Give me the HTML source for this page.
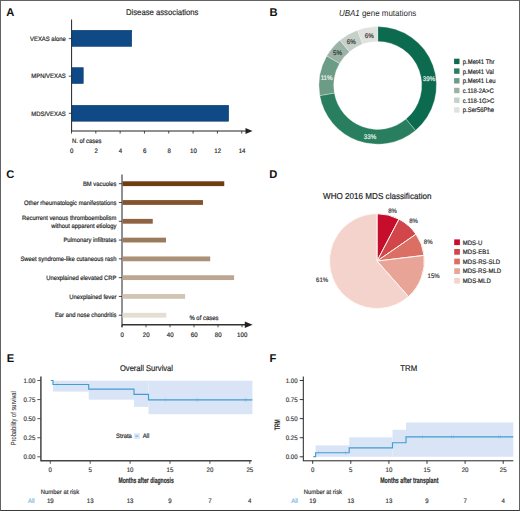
<!DOCTYPE html>
<html><head><meta charset="utf-8"><style>
html,body{margin:0;padding:0;background:#fff;}
#fig{position:relative;width:518px;height:509px;border:1px solid #626262;border-bottom-color:#3a3a3a;overflow:hidden;background:#fff;}
svg{position:absolute;left:-1px;top:-1px;}
text{font-family:"Liberation Sans",sans-serif;text-rendering:geometricPrecision;}
</style></head><body><div id="fig">
<svg width="520" height="511" viewBox="0 0 520 511" font-family="Liberation Sans">
<text x="6.3" y="15.8" font-size="11.2" text-anchor="start" fill="#111" font-weight="bold">A</text>
<text x="269.4" y="15.9" font-size="11.2" text-anchor="start" fill="#111" font-weight="bold">B</text>
<text x="6.3" y="177.6" font-size="11.2" text-anchor="start" fill="#111" font-weight="bold">C</text>
<text x="269.2" y="177.6" font-size="11.2" text-anchor="start" fill="#111" font-weight="bold">D</text>
<text x="6.8" y="361.6" font-size="11.2" text-anchor="start" fill="#111" font-weight="bold">E</text>
<text x="269.6" y="361.8" font-size="11.2" text-anchor="start" fill="#111" font-weight="bold">F</text>
<text x="162.2" y="15.3" font-size="8.3" text-anchor="middle" fill="#2a2a2a" stroke="#2a2a2a" stroke-width="0.18" textLength="72.5" lengthAdjust="spacingAndGlyphs" >Disease associations</text>
<line x1="71.6" y1="19.5" x2="71.6" y2="131" stroke="#222" stroke-width="1"/>
<line x1="71.6" y1="131" x2="250" y2="131" stroke="#222" stroke-width="1"/>
<path d="M245.5,128 L252.5,131 L245.5,134 Z" fill="#222"/>
<rect x="71.9" y="30.3" width="59.8" height="16.0" fill="#0f4986" stroke="#0b3c70" stroke-width="0.6"/>
<line x1="68.8" y1="38.6" x2="71.6" y2="38.6" stroke="#222" stroke-width="0.8"/>
<text x="65.8" y="40.86" font-size="6.37" text-anchor="end" fill="#222" stroke="#222" stroke-width="0.18" textLength="35.75" lengthAdjust="spacingAndGlyphs" >VEXAS alone</text>
<rect x="71.9" y="67.7" width="11.320000000000004" height="15.799999999999992" fill="#0f4986" stroke="#0b3c70" stroke-width="0.6"/>
<line x1="68.8" y1="76.2" x2="71.6" y2="76.2" stroke="#222" stroke-width="0.8"/>
<text x="65.8" y="78.46" font-size="6.37" text-anchor="end" fill="#222" stroke="#222" stroke-width="0.18" textLength="34.43" lengthAdjust="spacingAndGlyphs" >MPN/VEXAS</text>
<rect x="71.9" y="105.3" width="156.76" height="15.9" fill="#0f4986" stroke="#0b3c70" stroke-width="0.6"/>
<line x1="68.8" y1="113.3" x2="71.6" y2="113.3" stroke="#222" stroke-width="0.8"/>
<text x="65.8" y="115.56" font-size="6.37" text-anchor="end" fill="#222" stroke="#222" stroke-width="0.18" textLength="34.43" lengthAdjust="spacingAndGlyphs" >MDS/VEXAS</text>
<line x1="71.5" y1="131" x2="71.5" y2="133.6" stroke="#222" stroke-width="0.8"/>
<text x="71.8" y="152.77" font-size="6.59" text-anchor="middle" fill="#222" stroke="#222" stroke-width="0.18" textLength="3.39" lengthAdjust="spacingAndGlyphs" >0</text>
<line x1="95.82" y1="131" x2="95.82" y2="133.6" stroke="#222" stroke-width="0.8"/>
<text x="96.11999999999999" y="152.77" font-size="6.59" text-anchor="middle" fill="#222" stroke="#222" stroke-width="0.18" textLength="3.39" lengthAdjust="spacingAndGlyphs" >2</text>
<line x1="120.14" y1="131" x2="120.14" y2="133.6" stroke="#222" stroke-width="0.8"/>
<text x="120.44" y="152.77" font-size="6.59" text-anchor="middle" fill="#222" stroke="#222" stroke-width="0.18" textLength="3.39" lengthAdjust="spacingAndGlyphs" >4</text>
<line x1="144.46" y1="131" x2="144.46" y2="133.6" stroke="#222" stroke-width="0.8"/>
<text x="144.76000000000002" y="152.77" font-size="6.59" text-anchor="middle" fill="#222" stroke="#222" stroke-width="0.18" textLength="3.39" lengthAdjust="spacingAndGlyphs" >6</text>
<line x1="168.78" y1="131" x2="168.78" y2="133.6" stroke="#222" stroke-width="0.8"/>
<text x="169.08" y="152.77" font-size="6.59" text-anchor="middle" fill="#222" stroke="#222" stroke-width="0.18" textLength="3.39" lengthAdjust="spacingAndGlyphs" >8</text>
<line x1="193.1" y1="131" x2="193.1" y2="133.6" stroke="#222" stroke-width="0.8"/>
<text x="193.4" y="152.77" font-size="6.59" text-anchor="middle" fill="#222" stroke="#222" stroke-width="0.18" textLength="6.79" lengthAdjust="spacingAndGlyphs" >10</text>
<line x1="217.42000000000002" y1="131" x2="217.42000000000002" y2="133.6" stroke="#222" stroke-width="0.8"/>
<text x="217.72000000000003" y="152.77" font-size="6.59" text-anchor="middle" fill="#222" stroke="#222" stroke-width="0.18" textLength="6.79" lengthAdjust="spacingAndGlyphs" >12</text>
<line x1="241.74" y1="131" x2="241.74" y2="133.6" stroke="#222" stroke-width="0.8"/>
<text x="242.04000000000002" y="152.77" font-size="6.59" text-anchor="middle" fill="#222" stroke="#222" stroke-width="0.18" textLength="6.79" lengthAdjust="spacingAndGlyphs" >14</text>
<text x="71.9" y="143.16" font-size="6.37" text-anchor="start" fill="#222" stroke="#222" stroke-width="0.18" textLength="29.51" lengthAdjust="spacingAndGlyphs" >N. of cases</text>
<text x="377.6" y="15.9" font-size="8.6" text-anchor="middle" fill="#2a2a2a" textLength="77.4" lengthAdjust="spacingAndGlyphs"><tspan font-style="italic">UBA1</tspan> gene mutations</text>
<path d="M377.70,26.60 A58.8,58.8 0 0 1 415.50,130.44 L405.98,119.11 A44.0,44.0 0 0 0 377.70,41.40 Z" fill="#0c6a4e" stroke="#fff" stroke-width="0.3"/>
<path d="M415.50,130.44 A58.8,58.8 0 0 1 319.79,95.61 L334.37,93.04 A44.0,44.0 0 0 0 405.98,119.11 Z" fill="#287e5f" stroke="#fff" stroke-width="0.3"/>
<path d="M319.79,95.61 A58.8,58.8 0 0 1 326.78,56.00 L339.59,63.40 A44.0,44.0 0 0 0 334.37,93.04 Z" fill="#6c9b86" stroke="#fff" stroke-width="0.3"/>
<path d="M326.78,56.00 A58.8,58.8 0 0 1 339.90,40.36 L349.42,51.69 A44.0,44.0 0 0 0 339.59,63.40 Z" fill="#9bb3a6" stroke="#fff" stroke-width="0.3"/>
<path d="M339.90,40.36 A58.8,58.8 0 0 1 357.59,30.15 L362.65,44.05 A44.0,44.0 0 0 0 349.42,51.69 Z" fill="#c5d0c9" stroke="#fff" stroke-width="0.3"/>
<path d="M357.59,30.15 A58.8,58.8 0 0 1 377.70,26.60 L377.70,41.40 A44.0,44.0 0 0 0 362.65,44.05 Z" fill="#dfe2de" stroke="#fff" stroke-width="0.3"/>
<text x="429" y="81.37" font-size="6.7" text-anchor="middle" fill="#e8f2ee" stroke="#e8f2ee" stroke-width="0.18" textLength="12.41" lengthAdjust="spacingAndGlyphs" >39%</text>
<text x="370" y="139.27" font-size="6.7" text-anchor="middle" fill="#e8f2ee" stroke="#e8f2ee" stroke-width="0.18" textLength="12.41" lengthAdjust="spacingAndGlyphs" >33%</text>
<text x="326.6" y="80.47" font-size="6.7" text-anchor="middle" fill="#eef4f0" stroke="#eef4f0" stroke-width="0.18" textLength="11.95" lengthAdjust="spacingAndGlyphs" >11%</text>
<text x="337.6" y="55.37" font-size="6.7" text-anchor="middle" fill="#333" stroke="#333" stroke-width="0.18" textLength="8.96" lengthAdjust="spacingAndGlyphs" >5%</text>
<text x="351.2" y="44.27" font-size="6.7" text-anchor="middle" fill="#333" stroke="#333" stroke-width="0.18" textLength="8.96" lengthAdjust="spacingAndGlyphs" >6%</text>
<text x="369.3" y="37.57" font-size="6.7" text-anchor="middle" fill="#333" stroke="#333" stroke-width="0.18" textLength="8.96" lengthAdjust="spacingAndGlyphs" >6%</text>
<rect x="454.1" y="58.7" width="5.4" height="5.4" fill="#0c6a4e" />
<text x="462.8" y="63.94" font-size="6.61" text-anchor="start" fill="#222" stroke="#222" stroke-width="0.18" textLength="31.7" lengthAdjust="spacingAndGlyphs" >p.Met41 Thr</text>
<rect x="454.1" y="68.39999999999999" width="5.4" height="5.4" fill="#287e5f" />
<text x="462.8" y="73.64" font-size="6.61" text-anchor="start" fill="#222" stroke="#222" stroke-width="0.18" textLength="31.05" lengthAdjust="spacingAndGlyphs" >p.Met41 Val</text>
<rect x="454.1" y="78.1" width="5.4" height="5.4" fill="#6c9b86" />
<text x="462.8" y="83.34" font-size="6.61" text-anchor="start" fill="#222" stroke="#222" stroke-width="0.18" textLength="32.8" lengthAdjust="spacingAndGlyphs" >p.Met41 Leu</text>
<rect x="454.1" y="87.8" width="5.4" height="5.4" fill="#9bb3a6" />
<text x="462.8" y="93.04" font-size="6.61" text-anchor="start" fill="#222" stroke="#222" stroke-width="0.18" textLength="30.88" lengthAdjust="spacingAndGlyphs" >c.118-2A&gt;C</text>
<rect x="454.1" y="97.5" width="5.4" height="5.4" fill="#c5d0c9" />
<text x="462.8" y="102.74" font-size="6.61" text-anchor="start" fill="#222" stroke="#222" stroke-width="0.18" textLength="31.54" lengthAdjust="spacingAndGlyphs" >c.118-1G&gt;C</text>
<rect x="454.1" y="107.19999999999999" width="5.4" height="5.4" fill="#dfe2de" />
<text x="462.8" y="112.44" font-size="6.61" text-anchor="start" fill="#222" stroke="#222" stroke-width="0.18" textLength="31.16" lengthAdjust="spacingAndGlyphs" >p.Ser56Phe</text>
<line x1="122" y1="174.5" x2="122" y2="327.3" stroke="#222" stroke-width="1"/>
<line x1="122" y1="324.8" x2="249" y2="324.8" stroke="#333" stroke-width="1.5"/>
<path d="M244.8,321.6 L252.6,324.8 L244.8,328 Z" fill="#222"/>
<rect x="122.5" y="181.29999999999998" width="101.75" height="4.8" fill="#6f3d12" />
<line x1="118.8" y1="183.7" x2="122" y2="183.7" stroke="#222" stroke-width="0.8"/>
<text x="116.4" y="185.96" font-size="6.32" text-anchor="end" fill="#222" stroke="#222" stroke-width="0.18" textLength="33.49" lengthAdjust="spacingAndGlyphs" >BM vacuoles</text>
<rect x="122.5" y="200.08999999999997" width="80.5" height="4.8" fill="#85532b" />
<line x1="118.8" y1="202.48999999999998" x2="122" y2="202.48999999999998" stroke="#222" stroke-width="0.8"/>
<text x="116.4" y="204.75" font-size="6.32" text-anchor="end" fill="#222" stroke="#222" stroke-width="0.18" textLength="92.35" lengthAdjust="spacingAndGlyphs" >Other rheumatologic manifestations</text>
<rect x="122.5" y="218.87999999999997" width="30.25" height="4.8" fill="#8f6242" />
<line x1="118.8" y1="221.27999999999997" x2="122" y2="221.27999999999997" stroke="#222" stroke-width="0.8"/>
<rect x="122.5" y="237.67" width="43.5" height="4.8" fill="#9c7a5e" />
<line x1="118.8" y1="240.07" x2="122" y2="240.07" stroke="#222" stroke-width="0.8"/>
<text x="116.4" y="242.33" font-size="6.32" text-anchor="end" fill="#222" stroke="#222" stroke-width="0.18" textLength="53.0" lengthAdjust="spacingAndGlyphs" >Pulmonary infiltrates</text>
<rect x="122.5" y="256.46000000000004" width="87.69999999999999" height="4.8" fill="#ac9077" />
<line x1="118.8" y1="258.86" x2="122" y2="258.86" stroke="#222" stroke-width="0.8"/>
<text x="116.4" y="261.12" font-size="6.32" text-anchor="end" fill="#222" stroke="#222" stroke-width="0.18" textLength="95.92" lengthAdjust="spacingAndGlyphs" >Sweet syndrome-like cutaneous rash</text>
<rect x="122.5" y="275.25" width="111.6" height="4.8" fill="#bea792" />
<line x1="118.8" y1="277.65" x2="122" y2="277.65" stroke="#222" stroke-width="0.8"/>
<text x="116.4" y="279.91" font-size="6.32" text-anchor="end" fill="#222" stroke="#222" stroke-width="0.18" textLength="70.24" lengthAdjust="spacingAndGlyphs" >Unexplained elevated CRP</text>
<rect x="122.5" y="294.04" width="62.599999999999994" height="4.8" fill="#d3c5b6" />
<line x1="118.8" y1="296.44" x2="122" y2="296.44" stroke="#222" stroke-width="0.8"/>
<text x="116.4" y="298.7" font-size="6.32" text-anchor="end" fill="#222" stroke="#222" stroke-width="0.18" textLength="47.16" lengthAdjust="spacingAndGlyphs" >Unexplained fever</text>
<rect x="122.5" y="312.83000000000004" width="43.80000000000001" height="4.8" fill="#e5ded2" />
<line x1="118.8" y1="315.23" x2="122" y2="315.23" stroke="#222" stroke-width="0.8"/>
<text x="116.4" y="317.49" font-size="6.32" text-anchor="end" fill="#222" stroke="#222" stroke-width="0.18" textLength="61.46" lengthAdjust="spacingAndGlyphs" >Ear and nose chondritis</text>
<text x="116.4" y="219.66" font-size="6.32" text-anchor="end" fill="#222" stroke="#222" stroke-width="0.18" textLength="94.29" lengthAdjust="spacingAndGlyphs" >Recurrent venous thromboembolism</text>
<text x="116.4" y="227.56" font-size="6.32" text-anchor="end" fill="#222" stroke="#222" stroke-width="0.18" textLength="65.05" lengthAdjust="spacingAndGlyphs" >without apparent etiology</text>
<line x1="122" y1="324.8" x2="122" y2="327.3" stroke="#222" stroke-width="0.8"/>
<text x="122.2" y="336.67" font-size="6.59" text-anchor="middle" fill="#222" stroke="#222" stroke-width="0.18" textLength="3.39" lengthAdjust="spacingAndGlyphs" >0</text>
<line x1="146" y1="324.8" x2="146" y2="327.3" stroke="#222" stroke-width="0.8"/>
<text x="146.2" y="336.67" font-size="6.59" text-anchor="middle" fill="#222" stroke="#222" stroke-width="0.18" textLength="6.79" lengthAdjust="spacingAndGlyphs" >20</text>
<line x1="170" y1="324.8" x2="170" y2="327.3" stroke="#222" stroke-width="0.8"/>
<text x="170.2" y="336.67" font-size="6.59" text-anchor="middle" fill="#222" stroke="#222" stroke-width="0.18" textLength="6.79" lengthAdjust="spacingAndGlyphs" >40</text>
<line x1="194" y1="324.8" x2="194" y2="327.3" stroke="#222" stroke-width="0.8"/>
<text x="194.2" y="336.67" font-size="6.59" text-anchor="middle" fill="#222" stroke="#222" stroke-width="0.18" textLength="6.79" lengthAdjust="spacingAndGlyphs" >60</text>
<line x1="218" y1="324.8" x2="218" y2="327.3" stroke="#222" stroke-width="0.8"/>
<text x="218.2" y="336.67" font-size="6.59" text-anchor="middle" fill="#222" stroke="#222" stroke-width="0.18" textLength="6.79" lengthAdjust="spacingAndGlyphs" >80</text>
<line x1="242" y1="324.8" x2="242" y2="327.3" stroke="#222" stroke-width="0.8"/>
<text x="242.2" y="336.67" font-size="6.59" text-anchor="middle" fill="#222" stroke="#222" stroke-width="0.18" textLength="10.18" lengthAdjust="spacingAndGlyphs" >100</text>
<text x="189.4" y="320.36" font-size="6.43" text-anchor="start" fill="#222" stroke="#222" stroke-width="0.18" textLength="29.1" lengthAdjust="spacingAndGlyphs" >% of cases</text>
<text x="377.3" y="199.1" font-size="8.6" text-anchor="middle" fill="#222" stroke="#222" stroke-width="0.18" textLength="108.4" lengthAdjust="spacingAndGlyphs" >WHO 2016 MDS classification</text>
<path d="M377.0,261.1 L377.00,213.70 A47.4,47.4 0 0 1 399.03,219.13 Z" fill="#c60d2c" stroke="#fff6f4" stroke-width="1.0" stroke-linejoin="round"/>
<path d="M377.0,261.1 L399.03,219.13 A47.4,47.4 0 0 1 416.01,234.17 Z" fill="#d1464a" stroke="#fff6f4" stroke-width="1.0" stroke-linejoin="round"/>
<path d="M377.0,261.1 L416.01,234.17 A47.4,47.4 0 0 1 424.05,255.39 Z" fill="#db6f63" stroke="#fff6f4" stroke-width="1.0" stroke-linejoin="round"/>
<path d="M377.0,261.1 L424.05,255.39 A47.4,47.4 0 0 1 408.43,296.58 Z" fill="#e8a597" stroke="#fff6f4" stroke-width="1.0" stroke-linejoin="round"/>
<path d="M377.0,261.1 L408.43,296.58 A47.4,47.4 0 1 1 377.00,213.70 Z" fill="#f4d3cc" stroke="#fff6f4" stroke-width="1.0" stroke-linejoin="round"/>
<text x="392.6" y="213.07" font-size="6.48" text-anchor="middle" fill="#333" stroke="#333" stroke-width="0.18" textLength="8.67" lengthAdjust="spacingAndGlyphs" >8%</text>
<text x="413.5" y="223.27" font-size="6.48" text-anchor="middle" fill="#333" stroke="#333" stroke-width="0.18" textLength="8.67" lengthAdjust="spacingAndGlyphs" >8%</text>
<text x="428.2" y="243.67" font-size="6.48" text-anchor="middle" fill="#333" stroke="#333" stroke-width="0.18" textLength="8.67" lengthAdjust="spacingAndGlyphs" >8%</text>
<text x="433.6" y="277.57" font-size="6.48" text-anchor="middle" fill="#333" stroke="#333" stroke-width="0.18" textLength="12.01" lengthAdjust="spacingAndGlyphs" >15%</text>
<text x="322.1" y="282.37" font-size="6.48" text-anchor="middle" fill="#333" stroke="#333" stroke-width="0.18" textLength="12.01" lengthAdjust="spacingAndGlyphs" >61%</text>
<rect x="454.2" y="239.4" width="5.7" height="5.7" fill="#c60d2c" />
<text x="462.8" y="244.61" font-size="6.6" text-anchor="start" fill="#222" stroke="#222" stroke-width="0.18" textLength="19.66" lengthAdjust="spacingAndGlyphs" >MDS-U</text>
<rect x="454.2" y="249.02" width="5.7" height="5.7" fill="#d1464a" />
<text x="462.8" y="254.23" font-size="6.6" text-anchor="start" fill="#222" stroke="#222" stroke-width="0.18" textLength="26.67" lengthAdjust="spacingAndGlyphs" >MDS-EB1</text>
<rect x="454.2" y="258.64000000000004" width="5.7" height="5.7" fill="#db6f63" />
<text x="462.8" y="263.85" font-size="6.6" text-anchor="start" fill="#222" stroke="#222" stroke-width="0.18" textLength="37.34" lengthAdjust="spacingAndGlyphs" >MDS-RS-SLD</text>
<rect x="454.2" y="268.26000000000005" width="5.7" height="5.7" fill="#e8a597" />
<text x="462.8" y="273.47" font-size="6.6" text-anchor="start" fill="#222" stroke="#222" stroke-width="0.18" textLength="38.33" lengthAdjust="spacingAndGlyphs" >MDS-RS-MLD</text>
<rect x="454.2" y="277.88000000000005" width="5.7" height="5.7" fill="#f4d3cc" />
<text x="462.8" y="283.09" font-size="6.6" text-anchor="start" fill="#222" stroke="#222" stroke-width="0.18" textLength="28.0" lengthAdjust="spacingAndGlyphs" >MDS-MLD</text>
<text x="146.5" y="371.3" font-size="8.4" text-anchor="middle" fill="#222" stroke="#222" stroke-width="0.18" textLength="53.1" lengthAdjust="spacingAndGlyphs" >Overall Survival</text>
<rect x="53.0" y="380.7" width="35.7" height="10.900000000000034" fill="#d9e5f7" />
<rect x="88.7" y="380.7" width="45.3" height="19.0" fill="#d9e5f7" />
<rect x="134" y="380.7" width="14.5" height="26.19999999999999" fill="#d9e5f7" />
<rect x="148.5" y="380.7" width="103.9" height="33.5" fill="#d9e5f7" />
<polyline points="50.80,380.50 53.00,380.50 53.00,384.50 88.70,384.50 88.70,389.10 134.00,389.10 134.00,394.40 148.50,394.40 148.50,399.90 252.40,399.90" fill="none" stroke="#429dd0" stroke-width="1.15"/>
<line x1="57.7" y1="382.5" x2="57.7" y2="386.5" stroke="#3592cc" stroke-width="0.4" opacity="0.5"/>
<line x1="165.8" y1="397.9" x2="165.8" y2="401.9" stroke="#3592cc" stroke-width="0.4" opacity="0.5"/>
<line x1="196.5" y1="397.9" x2="196.5" y2="401.9" stroke="#3592cc" stroke-width="0.4" opacity="0.5"/>
<line x1="198.2" y1="397.9" x2="198.2" y2="401.9" stroke="#3592cc" stroke-width="0.4" opacity="0.5"/>
<line x1="245" y1="397.9" x2="245" y2="401.9" stroke="#3592cc" stroke-width="0.4" opacity="0.5"/>
<line x1="246.6" y1="397.9" x2="246.6" y2="401.9" stroke="#3592cc" stroke-width="0.4" opacity="0.5"/>
<line x1="40.9" y1="376.5" x2="40.9" y2="461.2" stroke="#444" stroke-width="1.5"/>
<line x1="40.9" y1="460.8" x2="251.7" y2="460.8" stroke="#444" stroke-width="1.5"/>
<line x1="37.3" y1="380.5" x2="40.9" y2="380.5" stroke="#444" stroke-width="0.9"/>
<text x="35.4" y="382.77" font-size="6.59" text-anchor="end" fill="#3a3a3a" stroke="#3a3a3a" stroke-width="0.18" textLength="11.87" lengthAdjust="spacingAndGlyphs" >1.00</text>
<line x1="37.3" y1="399.57500000000005" x2="40.9" y2="399.57500000000005" stroke="#444" stroke-width="0.9"/>
<text x="35.4" y="401.84" font-size="6.59" text-anchor="end" fill="#3a3a3a" stroke="#3a3a3a" stroke-width="0.18" textLength="11.87" lengthAdjust="spacingAndGlyphs" >0.75</text>
<line x1="37.3" y1="418.65000000000003" x2="40.9" y2="418.65000000000003" stroke="#444" stroke-width="0.9"/>
<text x="35.4" y="420.92" font-size="6.59" text-anchor="end" fill="#3a3a3a" stroke="#3a3a3a" stroke-width="0.18" textLength="11.87" lengthAdjust="spacingAndGlyphs" >0.50</text>
<line x1="37.3" y1="437.725" x2="40.9" y2="437.725" stroke="#444" stroke-width="0.9"/>
<text x="35.4" y="439.99" font-size="6.59" text-anchor="end" fill="#3a3a3a" stroke="#3a3a3a" stroke-width="0.18" textLength="11.87" lengthAdjust="spacingAndGlyphs" >0.25</text>
<line x1="37.3" y1="456.8" x2="40.9" y2="456.8" stroke="#444" stroke-width="0.9"/>
<text x="35.4" y="459.07" font-size="6.59" text-anchor="end" fill="#3a3a3a" stroke="#3a3a3a" stroke-width="0.18" textLength="11.87" lengthAdjust="spacingAndGlyphs" >0.00</text>
<line x1="50.3" y1="460.8" x2="50.3" y2="463.8" stroke="#444" stroke-width="0.9"/>
<text x="50.3" y="471.97" font-size="6.59" text-anchor="middle" fill="#3a3a3a" stroke="#3a3a3a" stroke-width="0.18" textLength="3.39" lengthAdjust="spacingAndGlyphs" >0</text>
<line x1="90.2" y1="460.8" x2="90.2" y2="463.8" stroke="#444" stroke-width="0.9"/>
<text x="90.2" y="471.97" font-size="6.59" text-anchor="middle" fill="#3a3a3a" stroke="#3a3a3a" stroke-width="0.18" textLength="3.39" lengthAdjust="spacingAndGlyphs" >5</text>
<line x1="130.10000000000002" y1="460.8" x2="130.10000000000002" y2="463.8" stroke="#444" stroke-width="0.9"/>
<text x="130.10000000000002" y="471.97" font-size="6.59" text-anchor="middle" fill="#3a3a3a" stroke="#3a3a3a" stroke-width="0.18" textLength="6.79" lengthAdjust="spacingAndGlyphs" >10</text>
<line x1="170.0" y1="460.8" x2="170.0" y2="463.8" stroke="#444" stroke-width="0.9"/>
<text x="170.0" y="471.97" font-size="6.59" text-anchor="middle" fill="#3a3a3a" stroke="#3a3a3a" stroke-width="0.18" textLength="6.79" lengthAdjust="spacingAndGlyphs" >15</text>
<line x1="209.90000000000003" y1="460.8" x2="209.90000000000003" y2="463.8" stroke="#444" stroke-width="0.9"/>
<text x="209.90000000000003" y="471.97" font-size="6.59" text-anchor="middle" fill="#3a3a3a" stroke="#3a3a3a" stroke-width="0.18" textLength="6.79" lengthAdjust="spacingAndGlyphs" >20</text>
<line x1="249.8" y1="460.8" x2="249.8" y2="463.8" stroke="#444" stroke-width="0.9"/>
<text x="249.8" y="471.97" font-size="6.59" text-anchor="middle" fill="#3a3a3a" stroke="#3a3a3a" stroke-width="0.18" textLength="6.79" lengthAdjust="spacingAndGlyphs" >25</text>
<text x="146.1" y="482.8" font-size="7.9" text-anchor="middle" fill="#2a2a2a" stroke="#2a2a2a" stroke-width="0.18" textLength="55.3" lengthAdjust="spacingAndGlyphs" font-weight="bold" style="font-stretch:condensed">Months after diagnosis</text>
<text x="0" y="0" transform="translate(16.4,418.2) rotate(-90)" font-size="7.4" text-anchor="middle" fill="#222" textLength="54" lengthAdjust="spacingAndGlyphs" font-weight="normal">Probability of survival</text>
<text x="40.8" y="494.06" font-size="6.37" text-anchor="start" fill="#333" stroke="#333" stroke-width="0.18" textLength="38.36" lengthAdjust="spacingAndGlyphs" >Number at risk</text>
<text x="28" y="503.07" font-size="6.48" text-anchor="start" fill="#78b9e4" stroke="#78b9e4" stroke-width="0.18" textLength="6.67" lengthAdjust="spacingAndGlyphs" >All</text>
<text x="50.3" y="503.17" font-size="6.59" text-anchor="middle" fill="#333" stroke="#333" stroke-width="0.18" textLength="6.79" lengthAdjust="spacingAndGlyphs" >19</text>
<text x="90.2" y="503.17" font-size="6.59" text-anchor="middle" fill="#333" stroke="#333" stroke-width="0.18" textLength="6.79" lengthAdjust="spacingAndGlyphs" >13</text>
<text x="130.10000000000002" y="503.17" font-size="6.59" text-anchor="middle" fill="#333" stroke="#333" stroke-width="0.18" textLength="6.79" lengthAdjust="spacingAndGlyphs" >13</text>
<text x="170.0" y="503.17" font-size="6.59" text-anchor="middle" fill="#333" stroke="#333" stroke-width="0.18" textLength="3.39" lengthAdjust="spacingAndGlyphs" >9</text>
<text x="209.90000000000003" y="503.17" font-size="6.59" text-anchor="middle" fill="#333" stroke="#333" stroke-width="0.18" textLength="3.39" lengthAdjust="spacingAndGlyphs" >7</text>
<text x="249.8" y="503.17" font-size="6.59" text-anchor="middle" fill="#333" stroke="#333" stroke-width="0.18" textLength="3.39" lengthAdjust="spacingAndGlyphs" >4</text>
<text x="116.1" y="438.26" font-size="6.37" text-anchor="start" fill="#222" stroke="#222" stroke-width="0.18" textLength="15.74" lengthAdjust="spacingAndGlyphs" >Strata</text>
<rect x="134" y="433.2" width="5.8" height="5.8" fill="#dde8f7" />
<line x1="135.3" y1="436.1" x2="138.5" y2="436.1" stroke="#4a9fd0" stroke-width="0.8"/>
<text x="142.7" y="438.26" font-size="6.37" text-anchor="start" fill="#222" stroke="#222" stroke-width="0.18" textLength="6.56" lengthAdjust="spacingAndGlyphs" >All</text>
<text x="408.7" y="371.3" font-size="8.4" text-anchor="middle" fill="#222" stroke="#222" stroke-width="0.18" textLength="16.9" lengthAdjust="spacingAndGlyphs" >TRM</text>
<rect x="315.6" y="445.4" width="33.599999999999966" height="11.400000000000034" fill="#d9e5f7" />
<rect x="349.2" y="437.3" width="43.30000000000001" height="19.5" fill="#d9e5f7" />
<rect x="392.5" y="429.8" width="13.5" height="27.0" fill="#d9e5f7" />
<rect x="406" y="422.5" width="107.29999999999995" height="34.30000000000001" fill="#d9e5f7" />
<polyline points="313.30,456.60 315.60,456.60 315.60,452.70 349.20,452.70 349.20,447.90 392.50,447.90 392.50,442.70 406.00,442.70 406.00,436.90 513.30,436.90" fill="none" stroke="#429dd0" stroke-width="1.15"/>
<line x1="318.8" y1="450.7" x2="318.8" y2="454.7" stroke="#3592cc" stroke-width="0.4" opacity="0.5"/>
<line x1="345.5" y1="450.7" x2="345.5" y2="454.7" stroke="#3592cc" stroke-width="0.4" opacity="0.5"/>
<line x1="422.4" y1="434.9" x2="422.4" y2="438.9" stroke="#3592cc" stroke-width="0.4" opacity="0.5"/>
<line x1="451.5" y1="434.9" x2="451.5" y2="438.9" stroke="#3592cc" stroke-width="0.4" opacity="0.5"/>
<line x1="453.3" y1="434.9" x2="453.3" y2="438.9" stroke="#3592cc" stroke-width="0.4" opacity="0.5"/>
<line x1="498.6" y1="434.9" x2="498.6" y2="438.9" stroke="#3592cc" stroke-width="0.4" opacity="0.5"/>
<line x1="500.6" y1="434.9" x2="500.6" y2="438.9" stroke="#3592cc" stroke-width="0.4" opacity="0.5"/>
<line x1="303.3" y1="376.5" x2="303.3" y2="461.2" stroke="#222" stroke-width="1.0"/>
<line x1="303.3" y1="460.8" x2="513.3" y2="460.8" stroke="#222" stroke-width="1.0"/>
<line x1="299.7" y1="380.5" x2="303.3" y2="380.5" stroke="#222" stroke-width="0.9"/>
<text x="297.6" y="382.77" font-size="6.59" text-anchor="end" fill="#3a3a3a" stroke="#3a3a3a" stroke-width="0.18" textLength="11.87" lengthAdjust="spacingAndGlyphs" >1.00</text>
<line x1="299.7" y1="399.57500000000005" x2="303.3" y2="399.57500000000005" stroke="#222" stroke-width="0.9"/>
<text x="297.6" y="401.84" font-size="6.59" text-anchor="end" fill="#3a3a3a" stroke="#3a3a3a" stroke-width="0.18" textLength="11.87" lengthAdjust="spacingAndGlyphs" >0.75</text>
<line x1="299.7" y1="418.65000000000003" x2="303.3" y2="418.65000000000003" stroke="#222" stroke-width="0.9"/>
<text x="297.6" y="420.92" font-size="6.59" text-anchor="end" fill="#3a3a3a" stroke="#3a3a3a" stroke-width="0.18" textLength="11.87" lengthAdjust="spacingAndGlyphs" >0.50</text>
<line x1="299.7" y1="437.725" x2="303.3" y2="437.725" stroke="#222" stroke-width="0.9"/>
<text x="297.6" y="439.99" font-size="6.59" text-anchor="end" fill="#3a3a3a" stroke="#3a3a3a" stroke-width="0.18" textLength="11.87" lengthAdjust="spacingAndGlyphs" >0.25</text>
<line x1="299.7" y1="456.8" x2="303.3" y2="456.8" stroke="#222" stroke-width="0.9"/>
<text x="297.6" y="459.07" font-size="6.59" text-anchor="end" fill="#3a3a3a" stroke="#3a3a3a" stroke-width="0.18" textLength="11.87" lengthAdjust="spacingAndGlyphs" >0.00</text>
<line x1="312.7" y1="460.8" x2="312.7" y2="463.8" stroke="#222" stroke-width="0.9"/>
<text x="312.7" y="471.97" font-size="6.59" text-anchor="middle" fill="#3a3a3a" stroke="#3a3a3a" stroke-width="0.18" textLength="3.39" lengthAdjust="spacingAndGlyphs" >0</text>
<line x1="350.8" y1="460.8" x2="350.8" y2="463.8" stroke="#222" stroke-width="0.9"/>
<text x="350.8" y="471.97" font-size="6.59" text-anchor="middle" fill="#3a3a3a" stroke="#3a3a3a" stroke-width="0.18" textLength="3.39" lengthAdjust="spacingAndGlyphs" >5</text>
<line x1="388.9" y1="460.8" x2="388.9" y2="463.8" stroke="#222" stroke-width="0.9"/>
<text x="388.9" y="471.97" font-size="6.59" text-anchor="middle" fill="#3a3a3a" stroke="#3a3a3a" stroke-width="0.18" textLength="6.79" lengthAdjust="spacingAndGlyphs" >10</text>
<line x1="427.0" y1="460.8" x2="427.0" y2="463.8" stroke="#222" stroke-width="0.9"/>
<text x="427.0" y="471.97" font-size="6.59" text-anchor="middle" fill="#3a3a3a" stroke="#3a3a3a" stroke-width="0.18" textLength="6.79" lengthAdjust="spacingAndGlyphs" >15</text>
<line x1="465.1" y1="460.8" x2="465.1" y2="463.8" stroke="#222" stroke-width="0.9"/>
<text x="465.1" y="471.97" font-size="6.59" text-anchor="middle" fill="#3a3a3a" stroke="#3a3a3a" stroke-width="0.18" textLength="6.79" lengthAdjust="spacingAndGlyphs" >20</text>
<line x1="503.2" y1="460.8" x2="503.2" y2="463.8" stroke="#222" stroke-width="0.9"/>
<text x="503.2" y="471.97" font-size="6.59" text-anchor="middle" fill="#3a3a3a" stroke="#3a3a3a" stroke-width="0.18" textLength="6.79" lengthAdjust="spacingAndGlyphs" >25</text>
<text x="409.3" y="482.8" font-size="7.9" text-anchor="middle" fill="#2a2a2a" stroke="#2a2a2a" stroke-width="0.18" textLength="58.3" lengthAdjust="spacingAndGlyphs" font-weight="bold" style="font-stretch:condensed">Months after transplant</text>
<text x="0" y="0" transform="translate(280.2,424.7) rotate(-90)" font-size="8.0" text-anchor="middle" fill="#222" textLength="10.9" lengthAdjust="spacingAndGlyphs" font-weight="bold">TRM</text>
<text x="303.7" y="494.06" font-size="6.37" text-anchor="start" fill="#333" stroke="#333" stroke-width="0.18" textLength="38.36" lengthAdjust="spacingAndGlyphs" >Number at risk</text>
<text x="291.2" y="503.07" font-size="6.48" text-anchor="start" fill="#78b9e4" stroke="#78b9e4" stroke-width="0.18" textLength="6.67" lengthAdjust="spacingAndGlyphs" >All</text>
<text x="312.7" y="503.17" font-size="6.59" text-anchor="middle" fill="#333" stroke="#333" stroke-width="0.18" textLength="6.79" lengthAdjust="spacingAndGlyphs" >19</text>
<text x="350.8" y="503.17" font-size="6.59" text-anchor="middle" fill="#333" stroke="#333" stroke-width="0.18" textLength="6.79" lengthAdjust="spacingAndGlyphs" >13</text>
<text x="388.9" y="503.17" font-size="6.59" text-anchor="middle" fill="#333" stroke="#333" stroke-width="0.18" textLength="6.79" lengthAdjust="spacingAndGlyphs" >13</text>
<text x="427.0" y="503.17" font-size="6.59" text-anchor="middle" fill="#333" stroke="#333" stroke-width="0.18" textLength="3.39" lengthAdjust="spacingAndGlyphs" >9</text>
<text x="465.1" y="503.17" font-size="6.59" text-anchor="middle" fill="#333" stroke="#333" stroke-width="0.18" textLength="3.39" lengthAdjust="spacingAndGlyphs" >7</text>
<text x="503.2" y="503.17" font-size="6.59" text-anchor="middle" fill="#333" stroke="#333" stroke-width="0.18" textLength="3.39" lengthAdjust="spacingAndGlyphs" >4</text>
</svg></div></body></html>
